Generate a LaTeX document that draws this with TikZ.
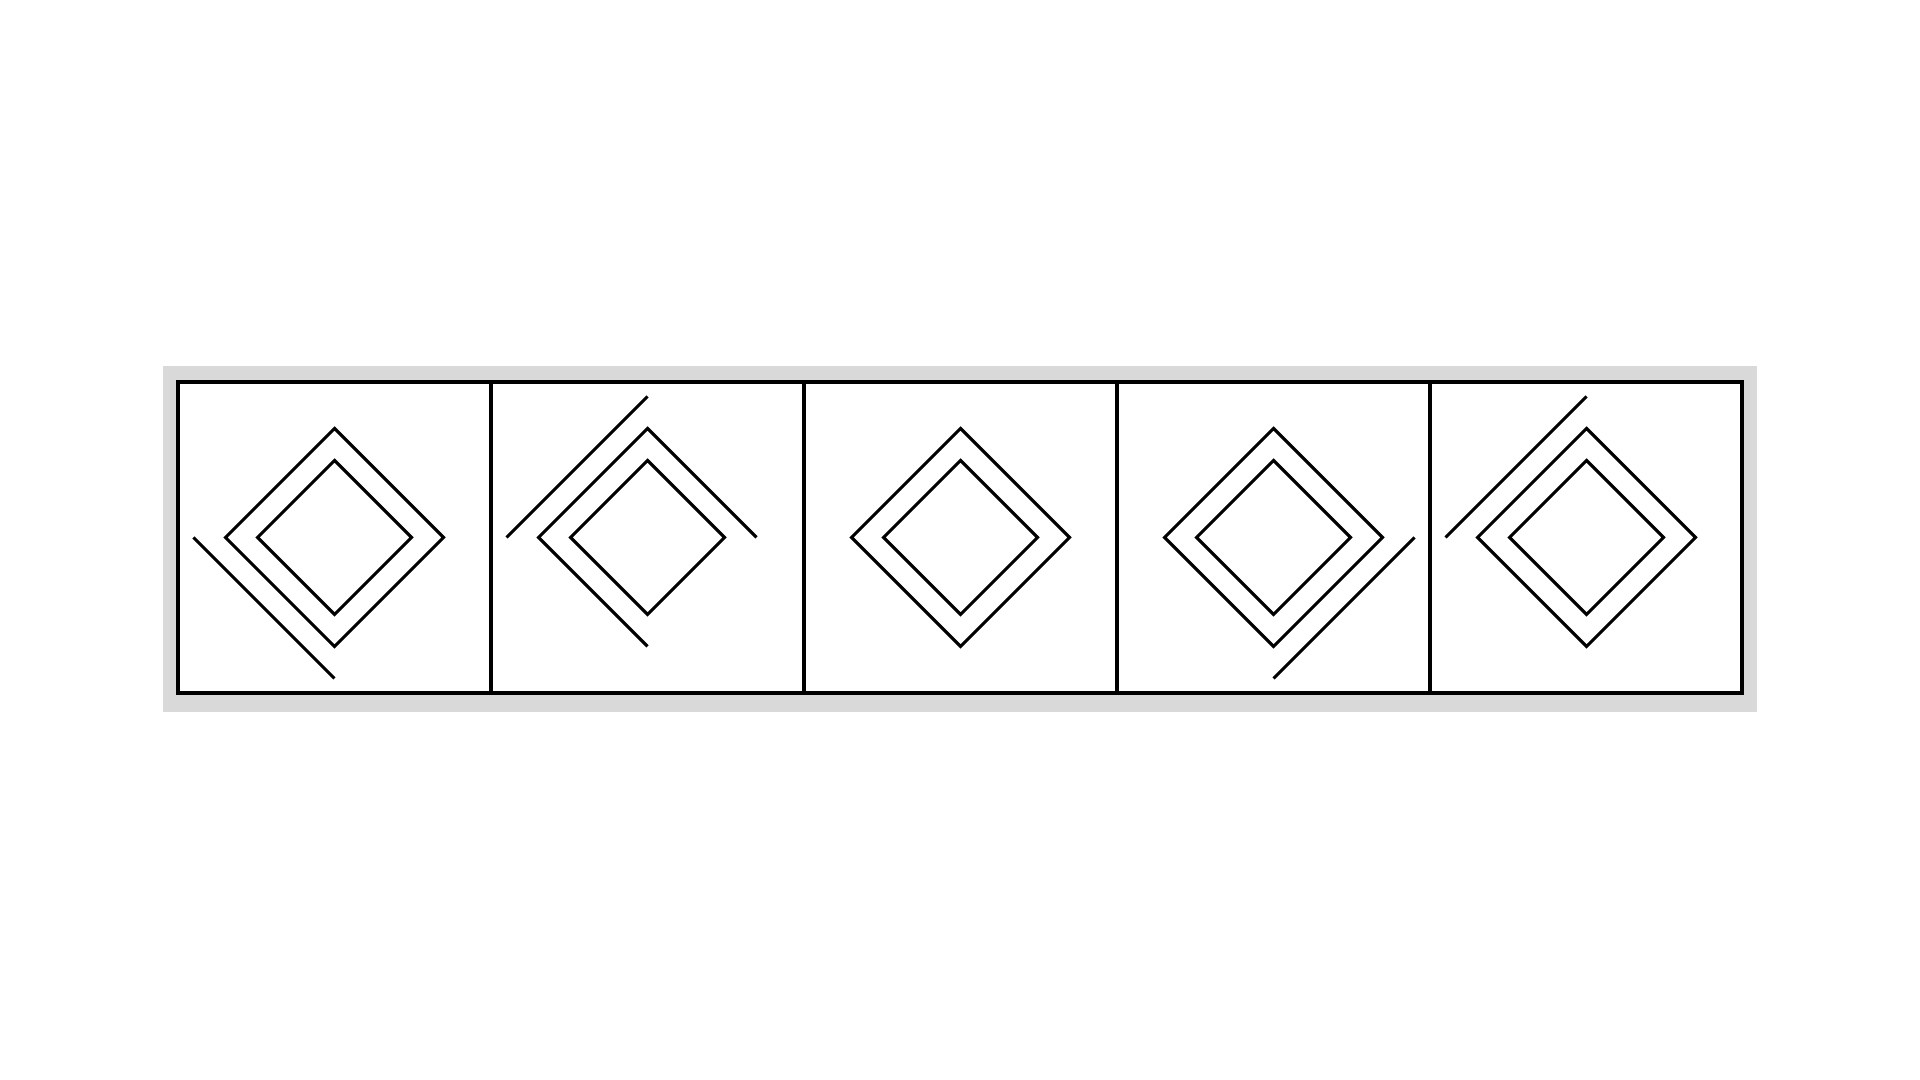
\documentclass[tikz,border=0pt]{standalone}

\begin{document}
\begin{tikzpicture}[x=0.01cm, y=-0.01cm,
    cellbox/.style={line width=1.1pt},
    rhomb/.style={line width=0.9pt}]
  \useasboundingbox (0,0) rectangle (1920,1080);
  % draw grey scan border and white strip
  \fill[black!15] (163,366) rectangle (1757,712);
  \fill[white] (178,382) rectangle (1742,693);
  % draw cell boxes
  \draw[cellbox] (178,382) rectangle (491,693);
  \draw[cellbox] (491,382) rectangle (804,693);
  \draw[cellbox] (804,382) rectangle (1117,693);
  \draw[cellbox] (1117,382) rectangle (1430,693);
  \draw[cellbox] (1430,382) rectangle (1742,693);
  % cell 1: both diamonds closed, extra stroke lower left
  \draw[rhomb] (334.5,428.5) -- (443.5,537.5) -- (334.5,646.5) -- (225.5,537.5) -- cycle;
  \draw[rhomb] (334.5,460.5) -- (411.5,537.5) -- (334.5,614.5) -- (257.5,537.5) -- cycle;
  \draw[rhomb] (193.5,537.5) -- (334.5,678.5);
  % cell 2: outer diamond open at lower right, extra stroke upper left
  \draw[rhomb] (756.5,537.5) -- (647.5,428.5) -- (538.5,537.5) -- (647.5,646.5);
  \draw[rhomb] (647.5,460.5) -- (724.5,537.5) -- (647.5,614.5) -- (570.5,537.5) -- cycle;
  \draw[rhomb] (506.5,537.5) -- (647.5,396.5);
  % cell 3: both diamonds closed
  \draw[rhomb] (960.5,428.5) -- (1069.5,537.5) -- (960.5,646.5) -- (851.5,537.5) -- cycle;
  \draw[rhomb] (960.5,460.5) -- (1037.5,537.5) -- (960.5,614.5) -- (883.5,537.5) -- cycle;
  % cell 4: both diamonds closed, extra stroke lower right
  \draw[rhomb] (1273.5,428.5) -- (1382.5,537.5) -- (1273.5,646.5) -- (1164.5,537.5) -- cycle;
  \draw[rhomb] (1273.5,460.5) -- (1350.5,537.5) -- (1273.5,614.5) -- (1196.5,537.5) -- cycle;
  \draw[rhomb] (1414.5,537.5) -- (1273.5,678.5);
  % cell 5: both diamonds closed, extra stroke upper left
  \draw[rhomb] (1586.5,428.5) -- (1695.5,537.5) -- (1586.5,646.5) -- (1477.5,537.5) -- cycle;
  \draw[rhomb] (1586.5,460.5) -- (1663.5,537.5) -- (1586.5,614.5) -- (1509.5,537.5) -- cycle;
  \draw[rhomb] (1445.5,537.5) -- (1586.5,396.5);
\end{tikzpicture}
\end{document}
